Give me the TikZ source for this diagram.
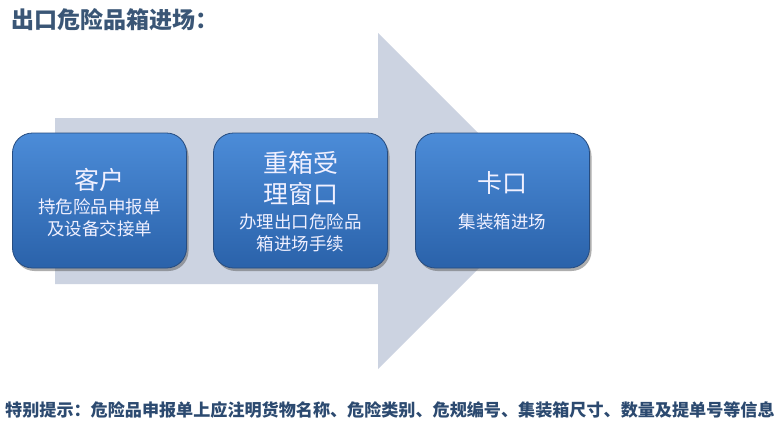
\documentclass[tikz,border=0pt]{standalone}
\usepackage{fontspec}
\newfontfamily\cjk{Noto Sans CJK SC}
\usetikzlibrary{shadows}
\definecolor{arrowfill}{RGB}{204,211,225}
\definecolor{boxtop}{RGB}{76,140,216}
\definecolor{boxbot}{RGB}{42,98,170}
\definecolor{boxline}{RGB}{38,76,128}
\definecolor{titlecol}{RGB}{58,86,118}
\definecolor{notecol}{RGB}{44,74,112}
\tikzset{
  stepbox/.style={draw=boxline, line width=0.8pt, rounded corners=20pt,
    top color=boxtop, bottom color=boxbot, minimum width=174pt, minimum height=135pt,
    drop shadow={shadow xshift=2pt, shadow yshift=-3pt, opacity=0.45, fill=black!70},
    text=white!94!blue, align=center, inner sep=0pt},
  bigtxt/.style={font=\cjk\fontsize{25}{31}\selectfont, text=white!94!blue, inner sep=0pt},
  smalltxt/.style={font=\cjk\fontsize{17.5}{22}\selectfont, text=white!94!blue, inner sep=0pt}
}
\begin{document}
\begin{tikzpicture}[x=1pt,y=-1pt]
\useasboundingbox (0,0) rectangle (779,434);
\fill[white] (0,0) rectangle (779,434);
% big arrow
\fill[arrowfill] (55,118) -- (378,118) -- (378,33) -- (546,201) -- (378,369) -- (378,284) -- (55,284) -- cycle;
% title
\node[anchor=west, text=titlecol, font=\cjk\bfseries\fontsize{23}{27}\selectfont, inner sep=0pt] (title) at (11,20) {出口危险品箱进场：};
% boxes
\node[stepbox] (b1) at (99.5,200.5) {};
\node[stepbox] (b2) at (300.5,200.5) {};
\node[stepbox] (b3) at (502.5,200.5) {};
% box texts
\node[bigtxt] (t1) at (99.5,180) {客户};
\node[smalltxt] (s1a) at (99.5,207) {持危险品申报单};
\node[smalltxt] (s1b) at (99.5,229) {及设备交接单};
\node[bigtxt] (t2a) at (300.5,163) {重箱受};
\node[bigtxt] (t2b) at (300.5,194) {理窗口};
\node[smalltxt] (s2a) at (300.5,222) {办理出口危险品};
\node[smalltxt] (s2b) at (300.5,244) {箱进场手续};
\node[bigtxt] (t3) at (502.5,183) {卡口};
\node[smalltxt] (s3) at (502.5,222) {集装箱进场};
% note
\node[anchor=west, text=notecol, font=\cjk\bfseries\fontsize{17.1}{20}\selectfont, inner sep=0pt] (note) at (5,410) {特别提示：危险品申报单上应注明货物名称、危险类别、危规编号、集装箱尺寸、数量及提单号等信息};
\end{tikzpicture}
\end{document}
